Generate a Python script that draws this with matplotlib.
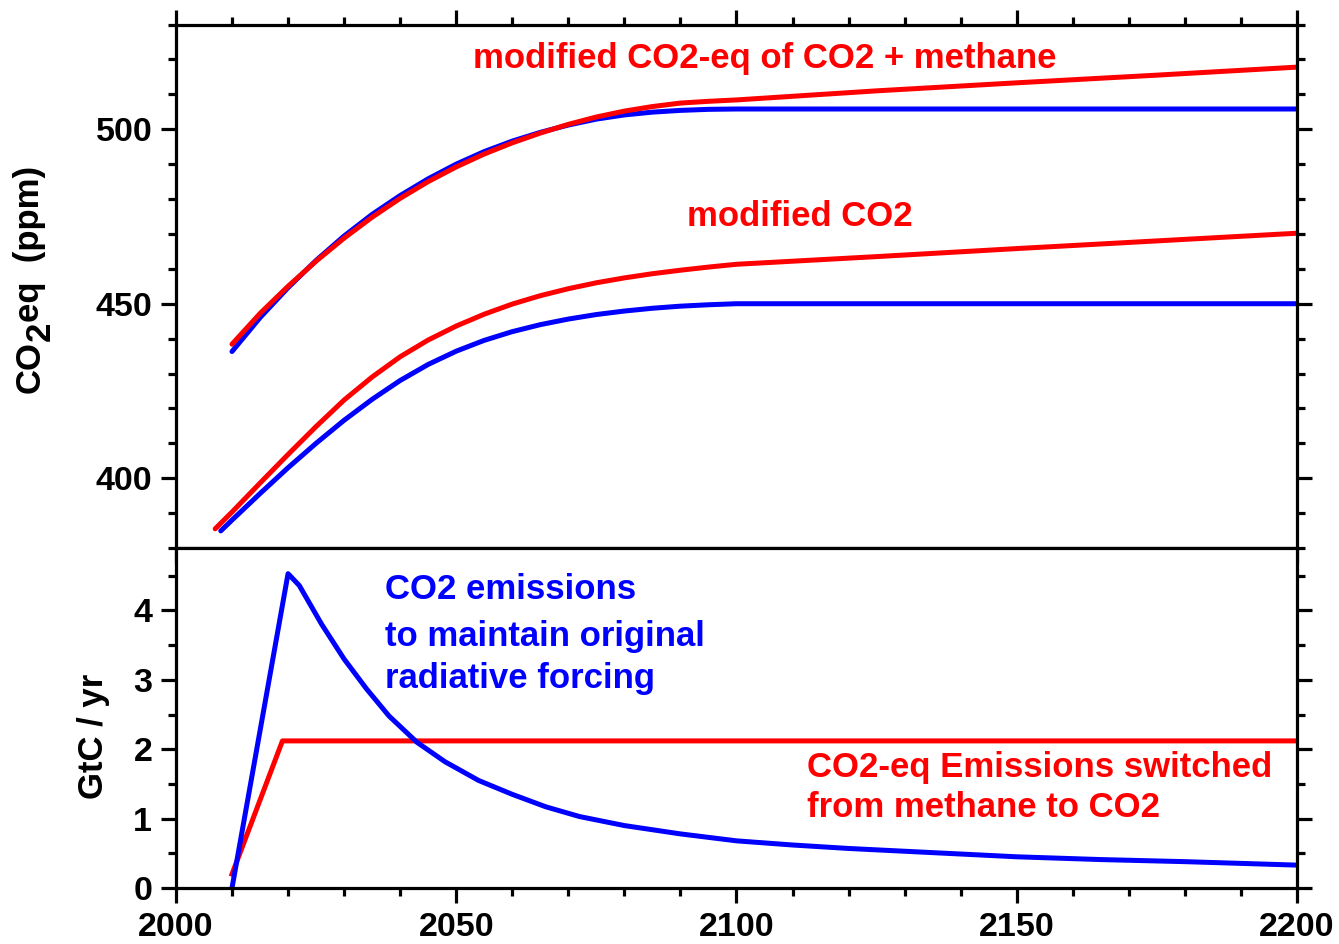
import numpy as np
import matplotlib
matplotlib.use("Agg")
import matplotlib.pyplot as plt
from matplotlib.ticker import MultipleLocator

plt.rcParams["font.family"] = ["Liberation Sans", "DejaVu Sans"]
plt.rcParams["font.weight"] = "bold"

# --- upper panel: CO2-equivalent concentration (ppm) ---
yr_eq = [2010, 2015, 2020, 2025, 2030, 2035, 2040, 2045, 2050, 2055, 2060, 2065,
         2070, 2075, 2080, 2085, 2090, 2095, 2100, 2125, 2150, 2175, 2200]
eq_orig = [436.3, 446.0, 454.6, 462.4, 469.4, 475.6, 481.0, 485.8, 490.0, 493.6, 496.6, 499.1,
           501.2, 502.9, 504.1, 504.9, 505.4, 505.7, 505.8, 505.8, 505.8, 505.8, 505.8]
eq_mod = [438.4, 447.2, 455.0, 462.2, 468.8, 474.8, 480.2, 485.0, 489.2, 492.9, 496.1, 498.9,
          501.4, 503.5, 505.2, 506.5, 507.5, 508.0, 508.4, 511.0, 513.3, 515.5, 517.8]

yr_co2_orig = [2008, 2010, 2015, 2020, 2025, 2030, 2035, 2040, 2045, 2050, 2055, 2060,
               2065, 2070, 2075, 2080, 2085, 2090, 2095, 2100, 2150, 2200]
co2_orig = [384.9, 388.0, 395.6, 403.0, 410.0, 416.6, 422.6, 428.0, 432.6, 436.4, 439.5, 442.0,
            444.0, 445.6, 446.9, 447.9, 448.7, 449.3, 449.7, 450.0, 450.0, 450.0]

yr_co2_mod = [2007, 2010, 2015, 2020, 2025, 2030, 2035, 2040, 2045, 2050, 2055, 2060,
              2065, 2070, 2075, 2080, 2085, 2090, 2095, 2100, 2125, 2150, 2175, 2200]
co2_mod = [385.5, 390.3, 398.6, 406.8, 414.8, 422.4, 429.0, 434.8, 439.6, 443.6, 447.0, 449.9,
           452.3, 454.3, 456.0, 457.4, 458.6, 459.6, 460.5, 461.3, 463.5, 465.8, 468.0, 470.2]

# --- lower panel: emissions (GtC / yr) ---
yr_emis_blue = [2010, 2020, 2022, 2024, 2026, 2030, 2034, 2038, 2043, 2048, 2054, 2060, 2066,
                2072, 2080, 2090, 2100, 2110, 2120, 2135, 2150, 2165, 2180, 2200]
emis_blue = [0.0, 4.53, 4.36, 4.08, 3.80, 3.30, 2.87, 2.48, 2.10, 1.82, 1.55, 1.35, 1.17,
             1.03, 0.90, 0.78, 0.68, 0.62, 0.57, 0.51, 0.45, 0.41, 0.38, 0.33]
yr_emis_red = [2010, 2019, 2200]
emis_red = [0.2, 2.12, 2.12]

RED = "#FF0000"
BLUE = "#0000FF"
LW = 3.6
FS = 25

fig = plt.figure(figsize=(13.39, 9.44), dpi=100)
ax1 = fig.add_axes([0.1314, 0.4195, 0.8372, 0.5545])
ax2 = fig.add_axes([0.1314, 0.0593, 0.8372, 0.3602])

ax1.plot(yr_eq, eq_orig, color=BLUE, lw=LW, solid_capstyle="round", solid_joinstyle="round")
ax1.plot(yr_eq, eq_mod, color=RED, lw=LW, solid_capstyle="round", solid_joinstyle="round")
ax1.plot(yr_co2_orig, co2_orig, color=BLUE, lw=LW, solid_capstyle="round", solid_joinstyle="round")
ax1.plot(yr_co2_mod, co2_mod, color=RED, lw=LW, solid_capstyle="round", solid_joinstyle="round")

ax2.plot(yr_emis_red, emis_red, color=RED, lw=LW)
ax2.plot(yr_emis_blue, emis_blue, color=BLUE, lw=LW, solid_joinstyle="round")

ax1.set_xlim(2000, 2200)
ax2.set_xlim(2000, 2200)
ax1.set_ylim(380, 530)
ax2.set_ylim(0, 4.9)

for ax in (ax1, ax2):
    ax.xaxis.set_major_locator(MultipleLocator(50))
    ax.xaxis.set_minor_locator(MultipleLocator(10))
    for s in ax.spines.values():
        s.set_linewidth(2.3)
    ax.tick_params(which="major", direction="out", length=11, width=2.3,
                   labelsize=24.5, pad=6)
    ax.tick_params(which="minor", direction="out", length=6, width=2.3)

ax1.yaxis.set_major_locator(MultipleLocator(50))
ax1.yaxis.set_minor_locator(MultipleLocator(10))
ax1.set_yticks([400, 450, 500])
ax1.tick_params(which="both", top=True, bottom=True, left=True, right=True,
                labelbottom=False)
ax2.yaxis.set_major_locator(MultipleLocator(1))
ax2.yaxis.set_minor_locator(MultipleLocator(0.5))
ax2.tick_params(which="both", top=False, bottom=True, left=True, right=True)

for lab in ax1.get_yticklabels() + ax2.get_yticklabels() + ax2.get_xticklabels():
    lab.set_fontweight("bold")

# axis titles; the "2" of CO2 is full size and dropped a little
W, H = 1339, 944
renderer = fig.canvas.get_renderer()
xc = 30 / W
t = fig.text(xc, (H - 393) / H, "CO", rotation=90, ha="center", va="bottom",
             fontsize=FS, fontweight="bold")
bb = t.get_window_extent(renderer)
t = fig.text(xc + 10 / W, bb.y1 / H, "2", rotation=90, ha="center", va="bottom",
             fontsize=FS, fontweight="bold")
bb = t.get_window_extent(renderer)
fig.text(xc, bb.y1 / H, "eq  (ppm)", rotation=90, ha="center", va="bottom",
         fontsize=FS, fontweight="bold")

fig.text(93 / W, 1 - 736 / H, "GtC / yr", rotation=90, ha="center",
         va="center", fontsize=FS, fontweight="bold")

# curve annotations
ax1.text(2053.0, 517.6, "modified CO2-eq of CO2 + methane", color=RED,
         fontsize=FS, fontweight="bold", va="baseline")
ax1.text(2091.2, 472.4, "modified CO2", color=RED,
         fontsize=FS, fontweight="bold", va="baseline")

blue_lines = ["CO2 emissions", "to maintain original", "radiative forcing"]
for txt, yv in zip(blue_lines, [4.16, 3.49, 2.88]):
    ax2.text(2037.3, yv, txt, color=BLUE, fontsize=FS, fontweight="bold",
             va="baseline")

red_lines = ["CO2-eq Emissions switched", "from methane to CO2"]
for txt, yv in zip(red_lines, [1.60, 1.03]):
    ax2.text(2112.5, yv, txt, color=RED, fontsize=FS, fontweight="bold",
             va="baseline")

fig.savefig("out.png", dpi=100)
